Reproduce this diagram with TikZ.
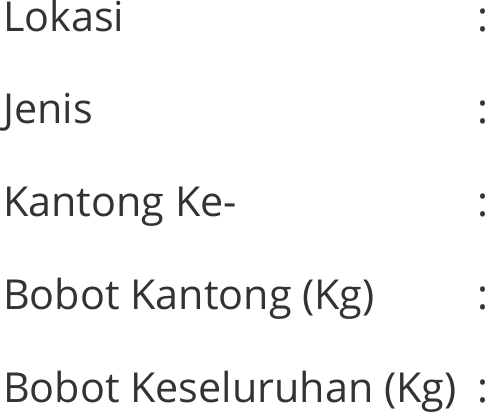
\documentclass[tikz,border=0pt]{standalone}
\usepackage{fontspec}
\setmainfont{Open Sans}
\definecolor{txt}{HTML}{333333}
\begin{document}
\begin{tikzpicture}[x=1pt,y=-1pt,
  lbl/.style={anchor=base west,inner sep=0pt,text=txt,font=\fontsize{41.3}{41.3}\selectfont},
  col/.style={anchor=base east,inner sep=0pt,text=txt,font=\fontsize{41.3}{41.3}\selectfont}]
\useasboundingbox (0,0) rectangle (489,413);
\node[lbl] (l1) at (3,31) {Lokasi};
\node[lbl] (l2) at (3,123.75) {Jenis};
\node[lbl] (l3) at (3,216.5) {Kantong Ke-};
\node[lbl] (l4) at (3,309.25) {Bobot Kantong (Kg)};
\node[lbl] (l5) at (3,402) {Bobot Keseluruhan (Kg)};
\node[col] (c1) at (488.9,31) {:};
\node[col] (c2) at (488.9,123.75) {:};
\node[col] (c3) at (488.9,216.5) {:};
\node[col] (c4) at (488.9,309.25) {:};
\node[col] (c5) at (488.9,402) {:};
\end{tikzpicture}
\end{document}
